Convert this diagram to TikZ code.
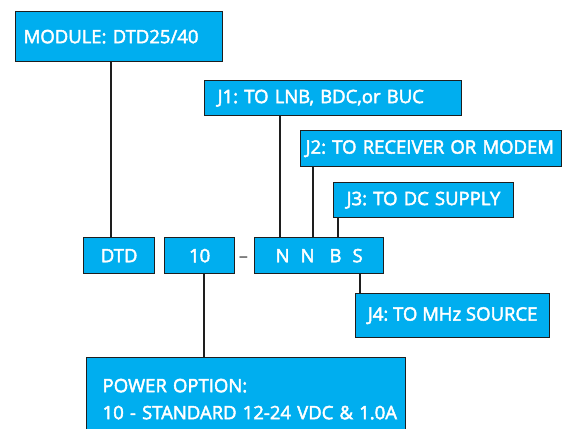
\documentclass[tikz,border=0pt]{standalone}
\usepackage{fontspec}
\setmainfont{Open Sans}
\newfontfamily\boxfont{Open Sans}[FakeBold=2.5]
\usetikzlibrary{positioning}
\definecolor{boxblue}{HTML}{00AEEF}
\definecolor{boxline}{HTML}{1E1E1E}
\tikzset
{
    codebox/.style = {draw=boxline, fill=boxblue, text=white, line width=1.3pt, anchor=north west, inner ysep=0pt, font=\boxfont\fontsize{18.5}{27}\selectfont},
    leftbox/.style = {codebox, align=left},
    midbox/.style  = {codebox, align=center, inner xsep=0pt},
    wire/.style    = {draw=boxline, line width=1.1pt}
}

\begin{document}
\frenchspacing
\begin{tikzpicture}[x=1pt, y=-1pt]
\useasboundingbox (0,0) rectangle (564,428);
\clip (0,0) rectangle (564,428);

\node (module) [leftbox, inner xsep=8pt, text width=191pt, minimum height=50pt] at (15,11)   {\mbox{MODULE: DTD25/40}};
\node (j1)     [leftbox, inner xsep=13pt, text width=231pt, minimum height=35pt] at (204,80)  {\mbox{J1: TO LNB, BDC,or BUC}};
\node (j2)     [leftbox, inner xsep=5pt, text width=251pt, minimum height=36pt]  at (300,130) {\mbox{J2: TO RECEIVER OR MODEM}};
\node (j3)     [leftbox, inner xsep=13pt, text width=154pt, minimum height=35pt] at (333,182) {\mbox{J3: TO DC SUPPLY}};

\node (dtd)    [midbox, minimum width=71pt, minimum height=36pt]  at (83,237)  {DTD};
\node (ten)    [midbox, minimum width=70pt, minimum height=36pt]  at (164,237) {10};
\node (dash)   [text=black!70, font=\fontsize{18.5}{27}\selectfont] at (243.5,260) {--};
\node (nnbs)   [midbox, minimum width=129pt, minimum height=36pt] at (254,237) {N\hspace{11pt}N\hspace{15pt}B\hspace{11pt}S};
\node (j4)     [midbox, minimum width=194pt, minimum height=44pt] at (355,293) {J4: TO MHz SOURCE};

\node (power)  [leftbox, inner xsep=16pt, text width=287pt, minimum height=83pt] at (86,357) {\mbox{POWER OPTION:}\\ \mbox{10 - STANDARD 12-24 VDC \& 1.0A}};

%% connectors
\coordinate (moduletap) at (111,0);
\coordinate (j1tap)     at (280,0);
\coordinate (j2tap)     at (313,0);
\coordinate (j3tap)     at (338,0);
\coordinate (j4tap)     at (360,0);
\coordinate (tentap)    at (204,0);

\path[wire]
(module.south -| moduletap) -- (dtd.north -| moduletap)
(j1.south -| j1tap)         -- (nnbs.north -| j1tap)
(j2.south -| j2tap)         -- (nnbs.north -| j2tap)
(j3.south -| j3tap)         -- (nnbs.north -| j3tap)
(nnbs.south -| j4tap)       -- (j4.north -| j4tap)
(ten.south -| tentap)       -- (power.north -| tentap);
\end{tikzpicture}
\end{document}
